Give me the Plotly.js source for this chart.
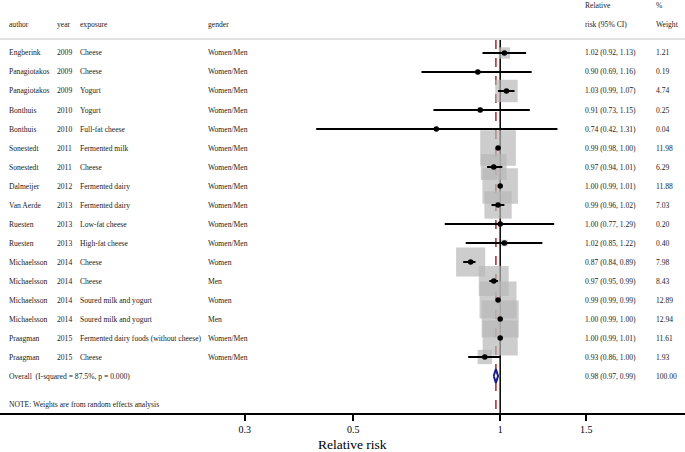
<!DOCTYPE html>
<html>
<head>
<meta charset="utf-8">
<script src="https://cdn.plot.ly/plotly-3.0.1.min.js"></script>
<style>html,body{margin:0;padding:0;background:#fff;}#chart{width:685px;height:452px;}</style>
</head>
<body>
<div id="chart"></div>
<script>
var authors = ["Engberink","Panagiotakos","Panagiotakos","Bonthuis","Bonthuis","Sonestedt","Sonestedt","Dalmeijer","Van Aerde","Ruesten","Ruesten","Michaelsson","Michaelsson","Michaelsson","Michaelsson","Praagman","Praagman"];
var years = [2009,2009,2009,2010,2010,2011,2011,2012,2013,2013,2013,2014,2014,2014,2014,2015,2015];
var exposures = ["Cheese","Cheese","Yogurt","Yogurt","Full-fat cheese","Fermented milk","Cheese","Fermented dairy","Fermented dairy","Low-fat cheese","High-fat cheese","Cheese","Cheese","Soured milk and yogurt","Soured milk and yogurt","Fermented dairy foods (without cheese)","Cheese"];
var genders = ["Women/Men","Women/Men","Women/Men","Women/Men","Women/Men","Women/Men","Women/Men","Women/Men","Women/Men","Women/Men","Women/Men","Women","Men","Women","Men","Women/Men","Women/Men"];
var rr = [1.02,0.90,1.03,0.91,0.74,0.99,0.97,1.00,0.99,1.00,1.02,0.87,0.97,0.99,1.00,1.00,0.93];
var lo = [0.92,0.69,0.99,0.73,0.42,0.98,0.94,0.99,0.96,0.77,0.85,0.84,0.95,0.99,0.99,0.99,0.86];
var hi = [1.13,1.16,1.07,1.15,1.31,1.00,1.01,1.01,1.02,1.29,1.22,0.89,0.99,0.99,1.00,1.01,1.00];
var weights = [1.21,0.19,4.74,0.25,0.04,11.98,6.29,11.88,7.03,0.20,0.40,7.98,8.43,12.89,12.94,11.61,1.93];
var overallLabel = "Overall  (I-squared = 87.5%, p = 0.000)";
var overallRR = 0.98, overallLo = 0.97, overallHi = 0.99, overallWeight = 100.00;
var noteText = "NOTE: Weights are from random effects analysis";
var tickVals = [0.3, 0.5, 1, 1.5];
var tickLabels = ["0.3", "0.5", "1", "1.5"];
var headers = {author:"author", year:"year", exposure:"exposure", gender:"gender", rr1:"Relative", rr2:"risk (95% CI)", w1:"%", w2:"Weight"};

var W = 685, H = 452;
var FONT = "Liberation Serif, Times New Roman, serif";
var n = authors.length;
var rowIdx = authors.map(function(_, i){ return i; });
function py(p){ return -2.789 + p/19; } // pixel -> y data
function px(p){ return p / W; }

var sqSize = weights.map(function(w){ return 10.3*Math.sqrt(w); });

var traces = [
  { type:"scatter", mode:"markers", x: rr, y: rowIdx, hoverinfo:"skip",
    marker:{ symbol:"square", size: sqSize, color:"#b8b8b8", line:{width:0} } },
  { type:"scatter", mode:"markers", x: rr, y: rowIdx, hoverinfo:"skip",
    marker:{ symbol:"circle", size:5.5, color:"#000" },
    error_x:{ type:"data", symmetric:false,
      array: hi.map(function(h,i){ return h - rr[i]; }),
      arrayminus: lo.map(function(l,i){ return rr[i] - l; }),
      thickness:2, width:0, color:"#000" } },
  { type:"scatter", mode:"lines", hoverinfo:"skip",
    x:[overallLo, overallRR, overallHi, overallRR, overallLo],
    y:[n, n-0.36, n, n+0.36, n],
    fill:"toself", fillcolor:"#ffffff", line:{ color:"#1c1c8a", width:2 } }
];

var ann = [];
function txt(x, y, s, size){
  ann.push({ xref:"paper", yref:"y", x: px(x), y: y, text: s, showarrow:false,
    xanchor:"left", yanchor:"middle", font:{ family: FONT, size: size||7.6, color:"#222" } });
}
txt(7, py(24), headers.author);
txt(55, py(24), headers.year);
txt(78, py(24), headers.exposure);
txt(206, py(24), headers.gender);
txt(583, py(5), headers.rr1);
txt(583, py(24), headers.rr2);
txt(654, py(5), headers.w1);
txt(654, py(24), headers.w2);
for (var i = 0; i < n; i++){
  txt(7, i, authors[i]);
  txt(55, i, String(years[i]));
  txt(78, i, exposures[i]);
  txt(206, i, genders[i]);
  txt(583, i, rr[i].toFixed(2) + " (" + lo[i].toFixed(2) + ", " + hi[i].toFixed(2) + ")");
  txt(654, i, weights[i].toFixed(2));
}
txt(7, n, overallLabel);
txt(583, n, overallRR.toFixed(2) + " (" + overallLo.toFixed(2) + ", " + overallHi.toFixed(2) + ")");
txt(654, n, overallWeight.toFixed(2));
txt(7, py(404), noteText);
ann.push({ xref:"paper", yref:"paper", x: px(353), y: -0.076, text:"Relative risk", showarrow:false,
  xanchor:"center", yanchor:"middle", font:{ family: FONT, size: 13.5, color:"#000" } });

var shapes = [
  { type:"line", xref:"paper", yref:"y", x0:0, x1:1, y0:py(39), y1:py(39), line:{ color:"#c4c4c4", width:1 }, layer:"below" },
  { type:"line", xref:"x", yref:"y", x0:1, x1:1, y0:py(40), y1:py(413), line:{ color:"#000", width:1.5 }, layer:"below" },
  { type:"line", xref:"x", yref:"y", x0:overallRR, x1:overallRR, y0:py(40), y1:py(413), line:{ color:"#b22222", width:1.5, dash:"dash" }, layer:"below" }
];

var layout = {
  width: W, height: H,
  margin:{ l:0, r:0, t:0, b:39, pad:0 },
  paper_bgcolor:"#fff", plot_bgcolor:"#fff",
  showlegend:false,
  xaxis:{ type:"log", range:[Math.log10(0.0946), Math.log10(2.39)], tickvals: tickVals, ticktext: tickLabels,
    ticks:"outside", ticklen:6, tickwidth:1.5, tickcolor:"#000",
    showline:true, linecolor:"#000", linewidth:1.5, showgrid:false, zeroline:false,
    tickfont:{ family: FONT, size:10, color:"#000" }, fixedrange:true },
  yaxis:{ range:[18.947, -2.789], visible:false, showgrid:false, zeroline:false, fixedrange:true },
  annotations: ann,
  shapes: shapes,
  font:{ family: FONT }
};
Plotly.newPlot("chart", traces, layout, { staticPlot:true, displayModeBar:false });
</script>
</body>
</html>
